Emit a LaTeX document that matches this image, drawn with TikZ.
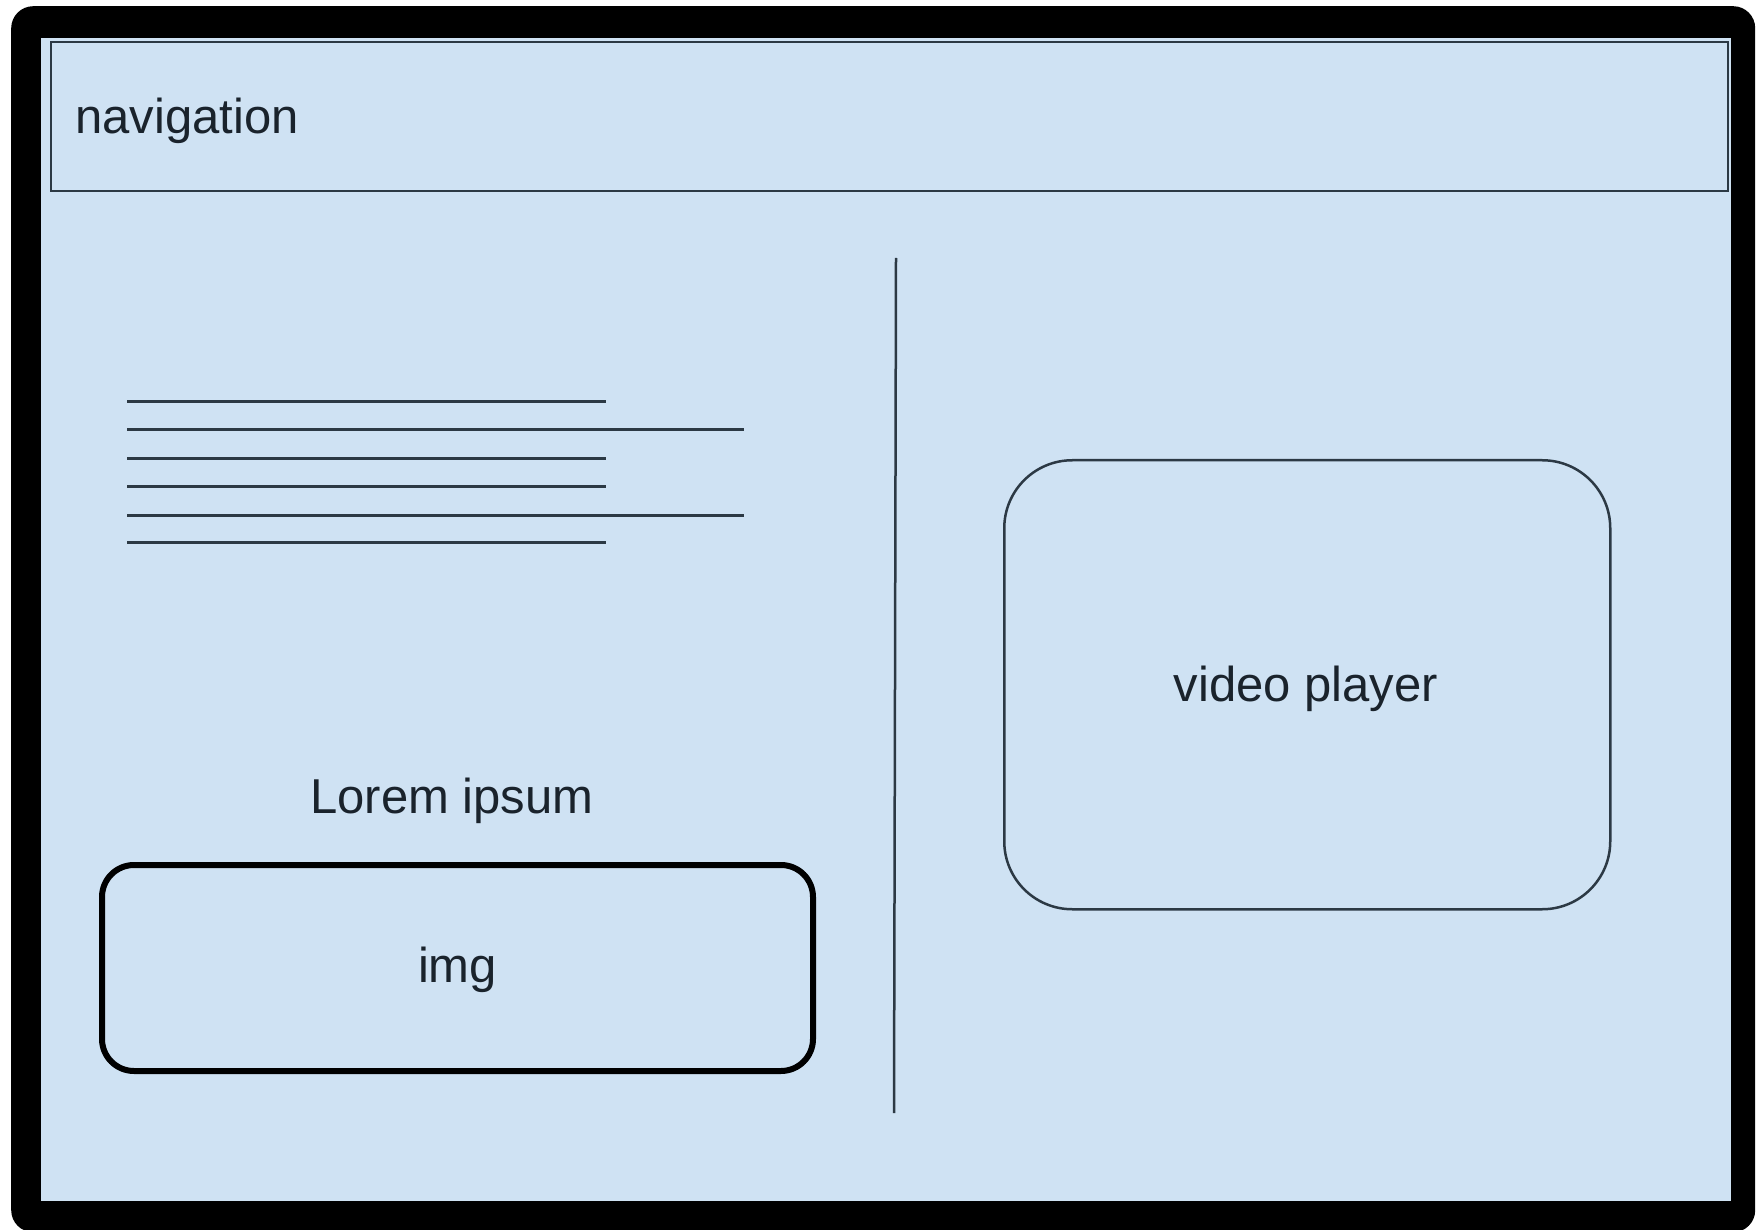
\documentclass[tikz,border=0pt]{standalone}
\usepackage{fontspec}
\setmainfont{Liberation Sans}
\definecolor{paleblue}{HTML}{CFE2F3}
\definecolor{edge}{HTML}{2C3944}
\definecolor{ink}{HTML}{1A232C}
\begin{document}
\begin{tikzpicture}[x=1pt,y=-1pt,
  lbl/.style={text=ink,inner sep=0pt,font=\fontsize{49}{58}\selectfont},
  thinbox/.style={draw=edge,line width=2pt,inner sep=0pt,anchor=north west},
  textline/.style={draw=edge,line width=3pt}]
\useasboundingbox (0,0) rectangle (1757,1230);
\fill[white] (0,0) rectangle (1757,1230);
% outer frame
\node (frame) [fill=black,rounded corners=22pt,inner sep=0pt,anchor=north west,
  minimum width=1744pt,minimum height=1226pt] at (11,6) {};
\node (canvas) [fill=paleblue,inner sep=0pt,anchor=north west,
  minimum width=1690pt,minimum height=1163pt] at (41,38) {};
% navigation bar
\node (nav) [thinbox,minimum width=1677pt,minimum height=149pt] at (50,41) {};
\node (navtext) [lbl,anchor=base west] at (75,134) {navigation};
% divider
\coordinate (divtop) at (896,258);
\coordinate (divbot) at (894,1113);
\draw[draw=edge,line width=2.5pt] (divtop) -- (divbot);
% text lines
\foreach \y/\x [count=\i] in {402/606,430/744,459/606,486/606,515/744,542/606}{
  \coordinate (ls\i) at (127,\y);
  \coordinate (le\i) at (\x,\y);
  \draw[textline] (ls\i) -- (le\i);
}
% Lorem ipsum
\node (lorem) [lbl,anchor=base] at (452,813) {Lorem ipsum};
% img box
\node (img) [draw=black,line width=6pt,rounded corners=32pt,inner sep=0pt,
  anchor=north west,minimum width=711pt,minimum height=206pt] at (99,862) {};
\node (imgtext) [lbl] at ([yshift=-2pt]img.center) {img};
% video player
\node (video) [thinbox,line width=2.5pt,rounded corners=68pt,
  minimum width=606pt,minimum height=449pt] at (1003,459) {};
\node (videotext) [lbl,anchor=base] at (1306,701) {video player};
\end{tikzpicture}
\end{document}
